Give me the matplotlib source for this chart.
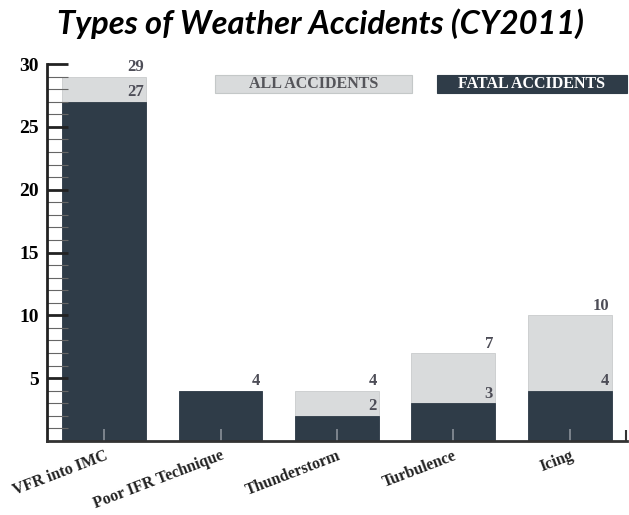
import matplotlib
matplotlib.use("Agg")
import matplotlib.pyplot as plt
from matplotlib.patches import Rectangle
from matplotlib.ticker import MultipleLocator

# data
categories = ["VFR into IMC", "Poor IFR Technique", "Thunderstorm", "Turbulence", "Icing"]
all_accidents = [29, 4, 4, 7, 10]
fatal_accidents = [27, 4, 2, 3, 4]
y_ticks = [5, 10, 15, 20, 25, 30]

DARK = "#2f3c48"
LIGHT = "#d9dbdc"
LABEL = "#4d4d57"
SERIF = ["Liberation Serif", "DejaVu Serif"]

fig = plt.figure(figsize=(6.29, 5.15), dpi=100)
ax = fig.add_axes([0.0747, 0.1437, 0.922, 0.732])

x = list(range(len(categories)))
w = 0.72
ax.bar(x, all_accidents, width=w, color=LIGHT, edgecolor="#c9cbcc", linewidth=0.6, zorder=1)
ax.bar(x, fatal_accidents, width=w, color=DARK, edgecolor=DARK, linewidth=0.6, zorder=1.2)

# value labels: right aligned at bar edge, just above each top
for xi, a, f in zip(x, all_accidents, fatal_accidents):
    ax.text(xi + w / 2 - 0.02, a + 0.12, str(a), ha="right", va="bottom",
            fontsize=12, fontweight="bold", color=LABEL, family=SERIF)
    if f != a:
        ax.text(xi + w / 2 - 0.02, f + 0.12, str(f), ha="right", va="bottom",
                fontsize=12, fontweight="bold", color=LABEL, family=SERIF)

ax.set_xlim(-0.49, 4.49)
ax.set_ylim(0, 30)

ax.set_yticks(y_ticks)
ax.set_yticklabels([str(t) for t in y_ticks], fontsize=14, fontweight="bold", family=SERIF)
ax.yaxis.set_minor_locator(MultipleLocator(1))
ax.tick_params(axis="y", which="major", direction="in", length=15, width=2, color="#222222", pad=6)
ax.tick_params(axis="y", which="minor", direction="in", length=15, width=0.8, color="#666666")

ax.set_xticks(x)
ax.set_xticklabels(categories, rotation=21, ha="right", rotation_mode="anchor",
                   fontsize=11.5, fontweight="bold", family=SERIF, color="#222222")
ax.tick_params(axis="x", which="major", direction="in", length=9, width=1.2, color="#8a9199", pad=5)
# small end tick at the right end of the baseline
ax.set_xticks([4.485], minor=True)
ax.tick_params(axis="x", which="minor", direction="in", length=8, width=1.5, color="#333333")

for s in ["top", "right"]:
    ax.spines[s].set_visible(False)
ax.spines["left"].set_linewidth(2)
ax.spines["left"].set_color("#222222")
ax.spines["bottom"].set_linewidth(2)
ax.spines["bottom"].set_color("#333333")

# title
fig.text(0.51, 0.955, "Types of Weather Accidents (CY2011)", ha="center", va="center",
         fontsize=23.5, fontweight="bold", fontstyle="italic", family=["Lato", "DejaVu Sans"])

# legend boxes
W, H = 629, 515
fig.patches.append(Rectangle((215 / W, 1 - 93 / H), 197 / W, 18 / H, transform=fig.transFigure,
                             facecolor=LIGHT, edgecolor="#c4c8c8", linewidth=0.8))
fig.text((215 + 412) / 2 / W, 1 - 84 / H, "ALL ACCIDENTS", ha="center", va="center",
         fontsize=11.5, fontweight="bold", color="#55555a", family=SERIF)
fig.patches.append(Rectangle((437 / W, 1 - 93 / H), 190 / W, 18 / H, transform=fig.transFigure,
                             facecolor=DARK, edgecolor=DARK, linewidth=0.8))
fig.text((437 + 627) / 2 / W, 1 - 84 / H, "FATAL ACCIDENTS", ha="center", va="center",
         fontsize=11.5, fontweight="bold", color="white", family=SERIF)

fig.savefig("out.png", dpi=100)
